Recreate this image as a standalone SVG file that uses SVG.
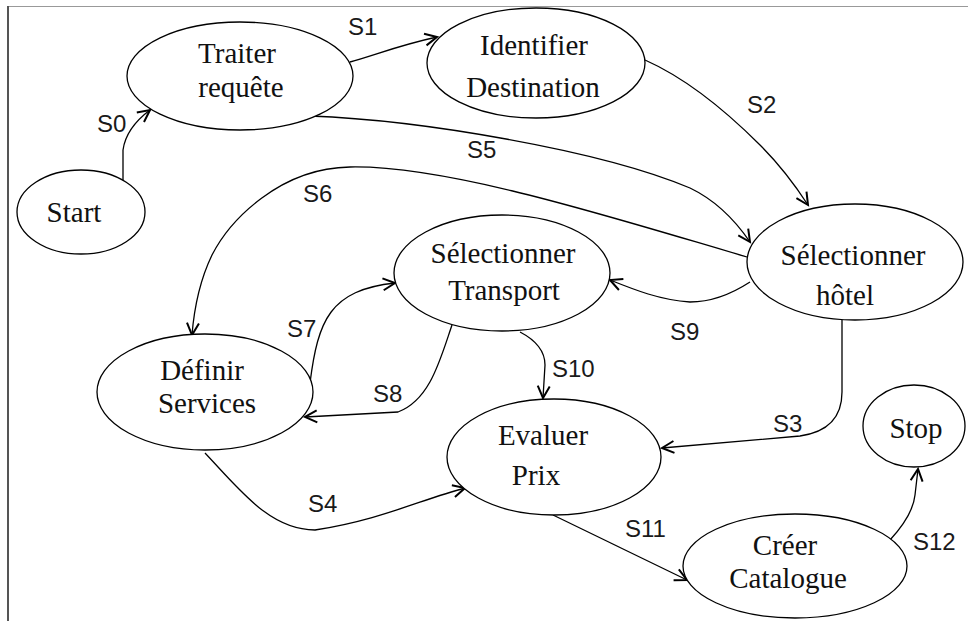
<svg xmlns="http://www.w3.org/2000/svg" width="968" height="621" viewBox="0 0 968 621">
  <style>
    .node ellipse { fill: #fff; stroke: #000; stroke-width: 1.3; }
    .node text { font-family: "Liberation Serif", "Times New Roman", serif; font-size: 29px; fill: #111; text-anchor: middle; }
    .edge { fill: none; stroke: #000; stroke-width: 1.3; marker-end: url(#arrow); }
    .lbl { font-family: "Liberation Sans", Arial, sans-serif; font-size: 24px; fill: #1a1a1a; }
  </style>
  <defs>
    <marker id="arrow" markerUnits="userSpaceOnUse" markerWidth="16" markerHeight="16" refX="12" refY="7" orient="auto" overflow="visible">
      <path d="M0,1 L12,7 L0,13" fill="none" stroke="#000" stroke-width="2"/>
    </marker>
  </defs>

  <rect width="968" height="621" fill="#fff"/>

  <!-- frame -->
  <line x1="8" y1="6.5" x2="968" y2="6.5" stroke="#999" stroke-width="1"/>
  <line x1="8" y1="6" x2="8" y2="621" stroke="#555" stroke-width="2"/>

  <!-- transitions -->
  <g id="connectors">
    <path class="edge" d="M123,181 L123,150 Q126,128 150,110"/>
    <path class="edge" d="M350,62 C375,55 400,45 437,37"/>
    <path class="edge" d="M645,60 C690,80 730,115 760,145 C780,165 795,185 808,205"/>
    <path class="edge" d="M842,320 L842,392 Q842,430 800,436 L662,448"/>
    <path class="edge" d="M205,453 C240,490 270,530 315,530 C380,520 420,500 465,488"/>
    <path class="edge" d="M310,116 C420,120 600,150 690,188 C715,200 735,220 750,242"/>
    <path class="edge" d="M747,257 C620,220 450,165 350,167 C280,168 230,220 212,255 C199,282 194,310 192,335"/>
    <path class="edge" d="M310,383 C318,320 330,290 395,283"/>
    <path class="edge" d="M452,325 C440,360 430,400 398,412 L305,417"/>
    <path class="edge" d="M750,282 C730,295 710,302 690,302 C660,300 635,290 610,280"/>
    <path class="edge" d="M520,332 Q545,345 545,365 L543,398"/>
    <path class="edge" d="M553,515 L687,580"/>
    <path class="edge" d="M890,540 Q913,515 915,495 L918,469"/>
  </g>

  <!-- transition labels -->
  <g id="labels">
    <text class="lbl" x="97" y="132">S0</text>
    <text class="lbl" x="348" y="35">S1</text>
    <text class="lbl" x="747" y="113">S2</text>
    <text class="lbl" x="773" y="432">S3</text>
    <text class="lbl" x="308" y="512">S4</text>
    <text class="lbl" x="467" y="158">S5</text>
    <text class="lbl" x="303" y="202">S6</text>
    <text class="lbl" x="287" y="337">S7</text>
    <text class="lbl" x="373" y="402">S8</text>
    <text class="lbl" x="670" y="340">S9</text>
    <text class="lbl" x="552" y="377">S10</text>
    <text class="lbl" x="625" y="537">S11</text>
    <text class="lbl" x="913" y="550">S12</text>
  </g>

  <!-- states -->
  <g id="start" class="node">
    <ellipse cx="81" cy="212" rx="64" ry="42"/>
    <text x="74" y="222">Start</text>
  </g>
  <g id="traiter-requete" class="node">
    <ellipse cx="240" cy="76" rx="113" ry="54"/>
    <text x="237" y="63">Traiter</text>
    <text x="241" y="97">requête</text>
  </g>
  <g id="identifier-destination" class="node">
    <ellipse cx="536" cy="63" rx="109" ry="55"/>
    <text x="534" y="55">Identifier</text>
    <text x="533" y="97">Destination</text>
  </g>
  <g id="selectionner-hotel" class="node">
    <ellipse cx="855" cy="262" rx="108" ry="58"/>
    <text x="853" y="265">Sélectionner</text>
    <text x="845" y="305">hôtel</text>
  </g>
  <g id="selectionner-transport" class="node">
    <ellipse cx="502" cy="273" rx="108" ry="58"/>
    <text x="503" y="263">Sélectionner</text>
    <text x="504" y="300">Transport</text>
  </g>
  <g id="definir-services" class="node">
    <ellipse cx="205" cy="392" rx="108" ry="58"/>
    <text x="202" y="380">Définir</text>
    <text x="207" y="413">Services</text>
  </g>
  <g id="evaluer-prix" class="node">
    <ellipse cx="554" cy="457" rx="107" ry="58"/>
    <text x="543" y="445">Evaluer</text>
    <text x="536" y="485">Prix</text>
  </g>
  <g id="stop" class="node">
    <ellipse cx="914" cy="426" rx="51" ry="41"/>
    <text x="916" y="438">Stop</text>
  </g>
  <g id="creer-catalogue" class="node">
    <ellipse cx="795" cy="566" rx="112" ry="52"/>
    <text x="785" y="555">Créer</text>
    <text x="788" y="588">Catalogue</text>
  </g>
</svg>
